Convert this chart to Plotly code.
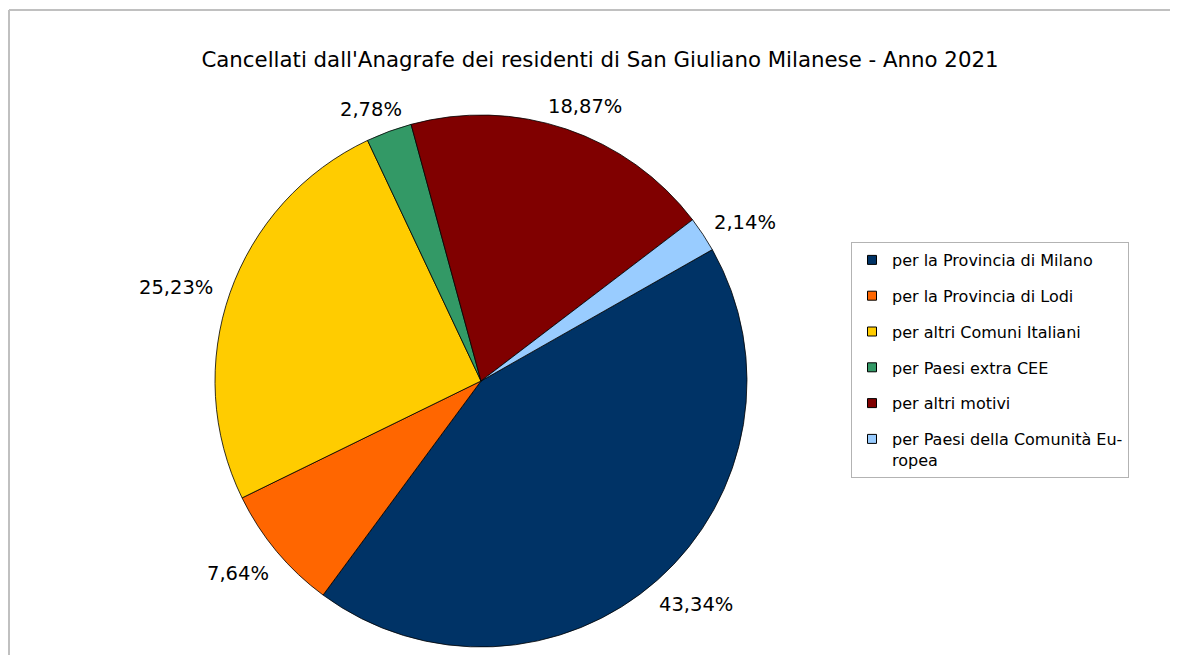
import math
import plotly.graph_objects as go

# ---- data ----
categories = [
    "per la Provincia di Milano",
    "per la Provincia di Lodi",
    "per altri Comuni Italiani",
    "per Paesi extra CEE",
    "per altri motivi",
    "per Paesi della Comunità Eu-<br>ropea",
]
percentages = [43.34, 7.64, 25.23, 2.78, 18.87, 2.14]
percent_labels = ["43,34%", "7,64%", "25,23%", "2,78%", "18,87%", "2,14%"]
colors = ["#003366", "#FF6600", "#FFCC00", "#339966", "#800000", "#99CCFF"]
title_text = "Cancellati dall'Anagrafe dei residenti di San Giuliano Milanese - Anno 2021"

# ---- layout constants (screen pixels; page body has an 8px margin) ----
OFF = 8
W, H = 1178 - 2 * OFF, 663 - 2 * OFF
CX, CY, R = 481 - OFF, 381 - OFF, 266
ROTATION = 60.4
FONT = "DejaVu Sans"


def px2x(px):
    return (px - OFF) / W


def py2y(py):
    return 1 - (py - OFF) / H


fig = go.Figure()

fig.add_trace(go.Pie(
    labels=categories,
    values=percentages,
    sort=False,
    direction="clockwise",
    rotation=ROTATION,
    marker=dict(colors=colors, line=dict(color="#000000", width=0.8)),
    textinfo="none",
    hoverinfo="label+percent",
    showlegend=False,
    domain=dict(x=[(CX - R) / W, (CX + R) / W], y=[1 - (CY + R) / H, 1 - (CY - R) / H]),
))

# legend entries (one per category)
for i, (name, col) in enumerate(zip(categories, colors)):
    fig.add_trace(go.Scatter(
        x=[None], y=[None], mode="markers", name=name,
        legendgroup=f"g{i}",
        marker=dict(symbol="square", size=9, color=col, line=dict(color="#000000", width=1)),
        hoverinfo="skip",
    ))

# percentage labels placed outside each slice
total = sum(percentages)
cum = 0.0
annotations = []
for v, lab in zip(percentages, percent_labels):
    mid = ROTATION + (cum + v / 2) / total * 360.0
    cum += v
    a = math.radians(mid)
    dx, dy = math.sin(a), -math.cos(a)
    half_w = len(lab) * 6.4
    half_h = 9
    px = CX + 285 * dx + half_w * dx
    py = CY + 285 * dy + half_h * dy + 4
    annotations.append(dict(
        x=px / W, y=1 - py / H, xref="paper", yref="paper",
        text=lab, showarrow=False, xanchor="center", yanchor="middle",
        font=dict(family=FONT, size=19.5, color="#000000"),
    ))

fig.update_layout(
    width=W, height=H,
    margin=dict(l=0, r=0, t=0, b=0),
    paper_bgcolor="#ffffff",
    plot_bgcolor="#ffffff",
    font=dict(family=FONT, color="#000000"),
    title=dict(
        text=title_text, x=px2x(600), xanchor="center", y=py2y(60), yanchor="middle",
        xref="paper", yref="paper",
        font=dict(family=FONT, size=21.3, color="#000000"),
    ),
    xaxis=dict(visible=False),
    yaxis=dict(visible=False),
    showlegend=True,
    legend=dict(
        x=px2x(851), y=py2y(242), xanchor="left", yanchor="top",
        bordercolor="#b3b3b3", borderwidth=1, bgcolor="#ffffff",
        font=dict(family=FONT, size=16, color="#000000"),
        traceorder="grouped", tracegroupgap=12, valign="top",
    ),
    annotations=annotations,
    shapes=[
        dict(type="line", xref="paper", yref="paper", x0=px2x(9), x1=1.01,
             y0=py2y(10), y1=py2y(10), line=dict(color="#c0c0c0", width=2)),
        dict(type="line", xref="paper", yref="paper", x0=px2x(9), x1=px2x(9),
             y0=py2y(10), y1=-0.02, line=dict(color="#c0c0c0", width=2)),
    ],
)

fig.write_html("out.html")
